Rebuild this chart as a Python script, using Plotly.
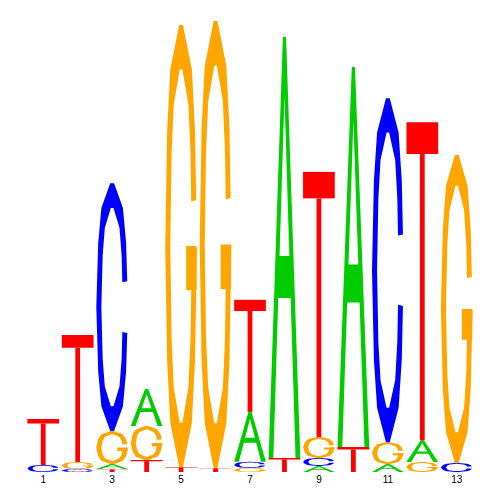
"""Sequence logo, 13 positions, drawn with Plotly path shapes."""

import numpy as np
import plotly.graph_objects as go

POSITIONS = list(range(1, 14))
TICK_POSITIONS = [1, 3, 5, 7, 9, 11, 13]

# information content (bits) per base at each position
HEIGHT_A = [0, 0, 0.022, 0.164, 0, 0, 0.221, 1.863, 0.027, 1.681, 0.035, 0.097, 0]
HEIGHT_C = [0.031, 0.013, 1.097, 0, 0, 0, 0.027, 0, 0.035, 0, 1.522, 0, 0.040]
HEIGHT_G = [0, 0.031, 0.146, 0.150, 1.956, 1.978, 0.018, 0, 0.093, 0, 0.097, 0.044, 1.363]
HEIGHT_T = [0.204, 0.562, 0.013, 0.053, 0.022, 0.018, 0.496, 0.062, 1.173, 0.111, 0, 1.407, 0]

COLORS = {"A": "#00CC00", "C": "#0000FF", "G": "#FFA500", "T": "#FF0000"}
LETTER_WIDTH = 0.92

# coarse "round" outline used for C and G (first quadrant, mirrored below)
ROUND_Q = [(1, 0), (0.88, 0.52), (0.68, 0.8), (0.12, 1)]


def round_outline(steps=60):
    quad = ROUND_Q + [(-x, y) for x, y in reversed(ROUND_Q)]
    full = quad + [(x, -y) for x, y in reversed(quad[:-1])]
    pts = []
    for (x0, y0), (x1, y1) in zip(full[:-1], full[1:]):
        for s in np.linspace(0, 1, steps, endpoint=False):
            pts.append((x0 + (x1 - x0) * s, y0 + (y1 - y0) * s))
    pts.append(full[-1])
    return pts


def ring(cut_lo, cut_hi, rx_in=0.34, ry_in=0.4):
    """Open ring (C body), opening on the right between cut_lo and cut_hi."""
    base = round_outline()

    def arc(rx, ry):
        pts = [(0.5 + rx * u, 0.5 + ry * v) for u, v in base]
        return [(x, y) for x, y in pts if not (x > 0.5 and cut_lo <= y <= cut_hi)]

    return arc(0.5, 0.5) + arc(rx_in, ry_in)[::-1]


def glyph(letter):
    """Return a list of parts; each part is a list of contours drawn as one shape (even-odd)."""
    if letter == "C":
        return [[ring(0.4, 0.6)]]
    if letter == "G":
        bar = [(0.66, 0.40), (0.99, 0.40), (0.99, 0.50), (0.66, 0.50)]
        return [[ring(0.5, 0.6)], [bar]]
    if letter == "T":
        tb, sw = 0.1, 0.15
        return [
            [[(0, 1 - tb), (1, 1 - tb), (1, 1), (0, 1)]],
            [[(0.5 - sw / 2, 0), (0.5 + sw / 2, 0), (0.5 + sw / 2, 1 - tb), (0.5 - sw / 2, 1 - tb)]],
        ]
    # A
    apex, cb0, cb1 = 0.86, 0.38, 0.48
    xl = lambda y: 0.15 + (0.35 / apex) * y
    outer = [(0, 0), (0.45, 1), (0.55, 1), (1, 0), (0.85, 0),
             (1 - xl(cb0), cb0), (xl(cb0), cb0), (0.15, 0)]
    hole = [(xl(cb1), cb1), (1 - xl(cb1), cb1), (0.5, apex)]
    return [[outer, hole]]


def part_path(contours, pos, y0, h):
    parts = []
    for poly in contours:
        pts = [(pos - LETTER_WIDTH / 2 + u * LETTER_WIDTH, y0 + v * h) for u, v in poly]
        parts.append("M " + " L ".join(f"{x:.4f},{y:.5f}" for x, y in pts) + " Z")
    return " ".join(parts)


fig = go.Figure()

heights = {"A": HEIGHT_A, "C": HEIGHT_C, "G": HEIGHT_G, "T": HEIGHT_T}
for i, pos in enumerate(POSITIONS):
    stack = sorted(((heights[b][i], b) for b in "ACGT" if heights[b][i] > 0))
    y0 = 0.0
    for h, b in stack:
        for contours in glyph(b):
            fig.add_shape(
                type="path",
                path=part_path(contours, pos, y0, h),
                xref="x",
                yref="y",
                fillcolor=COLORS[b],
                line=dict(width=0),
                layer="above",
            )
        y0 += h

# page body has an 8px margin, so offsets are shifted to land the plot area at 26..474 / 20..472
fig.update_layout(
    width=500,
    height=500,
    margin=dict(l=18, r=34, t=12, b=36),
    plot_bgcolor="white",
    paper_bgcolor="white",
    showlegend=False,
)
fig.update_xaxes(
    range=[0.5, 13.5],
    tickvals=TICK_POSITIONS,
    ticktext=[str(p) for p in TICK_POSITIONS],
    tickfont=dict(family="Liberation Sans, Arial", size=10, color="black"),
    showgrid=False,
    zeroline=False,
    showline=False,
    ticks="",
)
fig.update_yaxes(range=[0, 2], visible=False, showgrid=False, zeroline=False)

fig.write_html("out.html")
